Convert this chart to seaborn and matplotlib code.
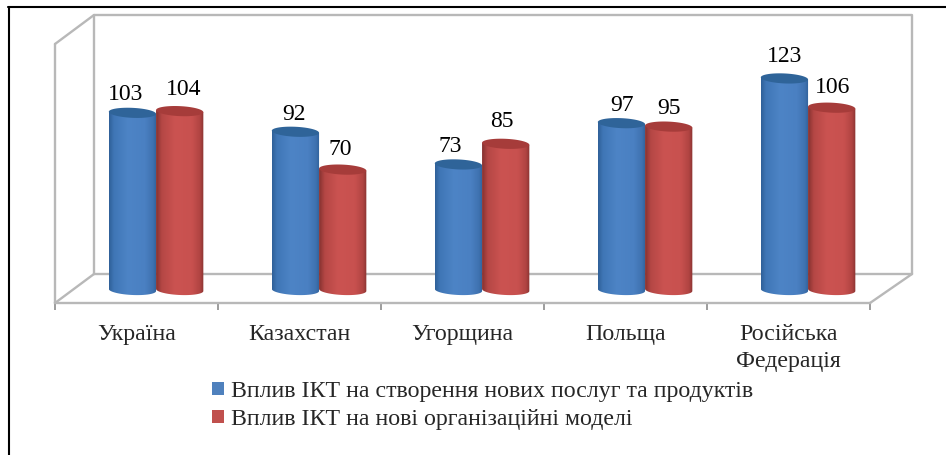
import numpy as np
import pandas as pd
import matplotlib
matplotlib.use("Agg")
import matplotlib.pyplot as plt
from matplotlib.lines import Line2D
from matplotlib.patches import Polygon
from matplotlib.colors import LinearSegmentedColormap
import seaborn as sns

countries = ["Україна", "Казахстан", "Угорщина", "Польща", "Російська\nФедерація"]
new_services = [103, 92, 73, 97, 123]
new_models = [104, 70, 85, 95, 106]
series_names = ["Вплив ІКТ на створення нових послуг та продуктів",
                "Вплив ІКТ на нові організаційні моделі"]

# where the labels sit relative to the cylinder tops (px)
label_dx = [[-7, -1, -8, 1, 0], [4, -2, -4, 0, 1]]
label_dy = [18.5, 17.5, 17.5, 17.5, 21.5, 22, 20, 22, 18, 20.5]

W, H = 946, 455
sns.set_theme(style="white")
plt.rcParams["font.family"] = ["Liberation Serif", "DejaVu Serif"]

df = pd.DataFrame({
    "country": countries * 2,
    "value": new_services + new_models,
    "series": [series_names[0]] * 5 + [series_names[1]] * 5,
})

fig = plt.figure(figsize=(W / 100, H / 100), dpi=100)
ax = fig.add_axes([55 / W, 1 - 303 / H, 815 / W, 288 / H])
ax.patch.set_alpha(0)


def line(xs, ys, color="#b8b8b8", lw=1.7):
    fig.add_artist(Line2D([x / W for x in xs], [1 - y / H for y in ys], color=color, lw=lw, zorder=0))


# 3d walls
line([94, 94, 912, 912], [274, 15, 15, 274])
line([94, 912], [274, 274])
line([55, 94], [44, 15])
line([55, 55], [44, 303])
line([55, 94], [303, 274])
line([870, 912], [303, 274])

# page frame
line([9, 9], [7, 455], color="black", lw=1.5)
line([8, 946], [7, 7], color="black", lw=1.5)

colors = ["#4f81bd", "#c0504d"]
sns.barplot(data=df, x="country", y="value", hue="series", palette=colors,
            width=0.58, gap=0, saturation=1, ax=ax, legend=False)

px_x = 815 / 5.0
px_y = 1.72
blue_map = LinearSegmentedColormap.from_list("b", [(0, "#2f6098"), (0.1, "#3f76b6"), (0.4, "#4d84c6"),
                                                   (0.75, "#4a80c2"), (0.92, "#3f72b0"), (1, "#2f6098")])
red_map = LinearSegmentedColormap.from_list("r", [(0, "#863230"), (0.12, "#b54745"), (0.4, "#cb5351"),
                                                  (0.75, "#c8514f"), (0.92, "#b04442"), (1, "#8a3331")])
maps = [blue_map, red_map]
tops = ["#2f6499", "#a63c3a"]

bars = list(ax.patches)
grad = np.linspace(0, 1, 128).reshape(1, -1)
t = np.linspace(0, 2 * np.pi, 60)
tilt = -0.045 * px_x / px_y
ry = 5 / px_y
for i, bar in enumerate(bars):
    s = i // 5
    x0, w, h = bar.get_x(), bar.get_width(), bar.get_height()
    cx = x0 + w / 2
    bar.set_visible(False)
    arc = np.linspace(np.pi, 2 * np.pi, 30)
    arc_x = cx + w / 2 * np.cos(arc)
    arc_y = ry * np.sin(arc) + tilt * (arc_x - cx)
    outline = np.vstack([[x0, h + tilt * (x0 - cx)], np.column_stack([arc_x, arc_y]),
                         [x0 + w, h + tilt * (x0 + w - cx)]])
    body = Polygon(outline, closed=True, transform=ax.transData, fc="none", ec="none")
    ax.add_patch(body)
    im = ax.imshow(grad, cmap=maps[s], extent=[x0, x0 + w, -12, h + 12], aspect="auto",
                   zorder=2 + s, interpolation="bilinear")
    im.set_clip_path(body)
    ex = cx + w / 2 * np.cos(t)
    ey = h + ry * np.sin(t) + tilt * (ex - cx)
    ax.add_patch(Polygon(np.column_stack([ex, ey]), closed=True, fc=tops[s], ec="none", zorder=2.5 + s))
    ax.annotate(str(int(h)), (cx, h), xytext=(label_dx[s][i % 5] * 0.72, label_dy[i] * 0.72),
                textcoords="offset points", ha="center", va="center", fontsize=17, color="black", zorder=6)

ax.set_xlim(-0.62, 4.38)
ax.set_ylim(-13 / 1.72, 275 / 1.72)

# category labels sit left of the cylinders, ticks between the groups
ax.set_xticks([i - 0.12 for i in range(5)])
ax.set_xticklabels(countries, fontsize=17.2, linespacing=1.38)
ax.set_xticks([i - 0.62 for i in range(6)], minor=True)
ax.tick_params(axis="x", which="major", length=0, pad=15)
ax.tick_params(axis="x", which="minor", length=5, width=1.2, color="#8c8c8c", bottom=True)
ax.set_yticks([])
ax.set_xlabel("")
ax.set_ylabel("")
for name in ["top", "left", "right"]:
    ax.spines[name].set_visible(False)
ax.spines["bottom"].set_color("#b8b8b8")
ax.spines["bottom"].set_linewidth(1.7)

handles = [plt.Rectangle((0, 0), 1, 1, fc=c, ec="none") for c in colors]
fig.legend(handles, series_names, loc="upper left", bbox_to_anchor=(212 / W, 1 - 381 / H),
           frameon=False, fontsize=17.2, handlelength=0.5, handleheight=0.5, handletextpad=0.3,
           labelspacing=0.29, borderpad=0, borderaxespad=0)

fig.savefig("out.png", dpi=100)
